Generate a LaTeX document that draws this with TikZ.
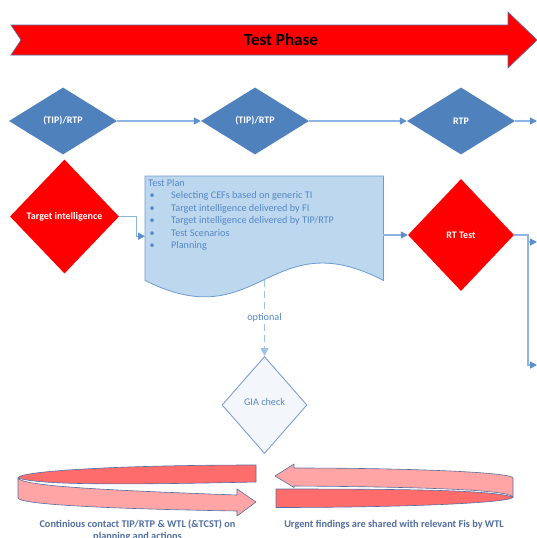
\documentclass[tikz,border=0pt]{standalone}
\usepackage{fontspec}
\setmainfont{Carlito}
\usetikzlibrary{shapes.geometric,arrows.meta}

\definecolor{officeblue}{RGB}{79,129,189}
\definecolor{linkblue}{RGB}{141,180,226}
\definecolor{tipblue}{RGB}{91,143,205}
\definecolor{optblue}{RGB}{157,195,230}
\definecolor{docfill}{RGB}{189,215,238}
\definecolor{docedge}{RGB}{110,155,208}
\definecolor{doctext}{RGB}{84,136,200}
\definecolor{ribbondark}{RGB}{255,108,108}
\definecolor{ribbonlight}{RGB}{255,165,165}
\definecolor{ribbonedge}{RGB}{84,110,160}
\definecolor{notetext}{RGB}{80,110,160}
\definecolor{giafill}{RGB}{243,246,251}
\definecolor{giaedge}{RGB}{124,160,208}

\begin{document}
\begin{tikzpicture}[x=1pt,y=-1pt,
  decision/.style={diamond, aspect=1, inner sep=0pt, draw=none,
    font=\fontsize{10}{12}\selectfont\bfseries, text=white},
  bluedec/.style={decision, fill=officeblue, minimum width=108pt, minimum height=67pt},
  reddec/.style={decision, fill=red},
  link/.style={draw=linkblue, line width=1.4pt,
    -{Triangle[length=7pt,width=7pt,color=tipblue]}},
  optlink/.style={draw=optblue, line width=1.6pt, dash pattern=on 7pt off 4pt,
    -{Triangle[length=8pt,width=8pt,color=optblue]}},
  plantext/.style={anchor=base west, inner sep=0pt, text=doctext,
    font=\fontsize{10.2}{12}\selectfont},
  notelabel/.style={anchor=base, inner sep=0pt, text=notetext,
    font=\fontsize{10.3}{12}\selectfont\bfseries},
  ribbon/.style={draw=ribbonedge, line width=0.6pt, line join=round},
]
\useasboundingbox (0,0) rectangle (537,538);

% phase banner
\path[fill=red, draw=ribbonedge, line width=0.6pt]
  (11,25) -- (508,25) -- (508,12) -- (537,40) -- (508,68) -- (508,55)
  -- (11,55) -- (21,40) -- cycle;
\node[font=\fontsize{17}{20}\selectfont\bfseries] (phase) at (281,40) {Test Phase};

% parties row
\node[bluedec] (d1) at (63,121) {(TIP)/RTP};
\node[bluedec] (d2) at (255,121) {(TIP)/RTP};
\node[bluedec] (d3) at (461,121) {RTP};
\coordinate (o0) at (537,121);
\draw[link] (d1) -- (d2);
\draw[link] (d2) -- (d3);
\draw[link] (d3) -- (o0);

% main flow
\node[reddec, minimum width=109pt, minimum height=114pt] (ti) at (64.5,216.5) {Target intelligence};
\node[reddec, minimum width=106pt, minimum height=112pt] (rt) at (461,235) {RT Test};

\node[minimum width=238pt, minimum height=104pt, inner sep=0pt, anchor=north west] (plan) at (145,176) {};
\path[fill=docfill, draw=docedge, line width=0.8pt]
  (plan.north west) -- (plan.north east) -- (plan.south east)
  .. controls (269,221) and (259,338) .. (plan.south west) -- cycle;

\node[plantext] (p0) at (148,186) {Test Plan};
\node[plantext] (p1) at (148,198.5) {\makebox[23pt][l]{\hspace{1.5pt}\textbullet}Selecting CEFs based on generic TI};
\node[plantext] (p2) at (148,211) {\makebox[23pt][l]{\hspace{1.5pt}\textbullet}Target intelligence delivered by FI};
\node[plantext] (p3) at (148,223.5) {\makebox[23pt][l]{\hspace{1.5pt}\textbullet}Target intelligence delivered by TIP/RTP};
\node[plantext] (p4) at (148,236) {\makebox[23pt][l]{\hspace{1.5pt}\textbullet}Test Scenarios};
\node[plantext] (p5) at (148,248.5) {\makebox[23pt][l]{\hspace{1.5pt}\textbullet}Planning};

\draw[link] (ti.east) -- ++(17,0) |- ([yshift=-8pt]plan.west);
\draw[link] (plan.east |- rt.west) -- (rt.west);

\coordinate (o1) at (537,242);
\coordinate (o2) at (537,365);
\draw[link] (rt.east) -| ([xshift=-9pt]o2) -- (o2);
\draw[link] ([xshift=-9pt]o1) -- (o1);

% optional check
\node[diamond, aspect=1, inner sep=0pt, minimum width=85pt, minimum height=97pt,
  fill=giafill, draw=giaedge, line width=0.9pt, text=doctext,
  font=\fontsize{10.2}{12}\selectfont] (gia) at (264.5,405) {\raisebox{7pt}{GIA check}};
\draw[optlink] (gia.north |- plan.south) -- node[fill=white, inner sep=1.5pt, text=doctext,
  font=\fontsize{10.2}{12}\selectfont] (opt) {optional} (gia.north);

% continuous contact loop (back band, then front band with head)
\path[ribbon, fill=ribbondark]
  (256,465) .. controls (124.6,465) and (18,470.8) .. (18,478)
  .. controls (40,485) and (120,485) .. (256,482) -- cycle;
\path[ribbon, fill=ribbonlight]
  (18,478) .. controls (22,486) and (100,490) .. (237,495)
  -- (237,489) -- (256,502) -- (237,516) -- (237,511)
  .. controls (120,509) and (20,505) .. (18,498) -- cycle;

% urgent findings loop
\path[ribbon, fill=ribbondark]
  (276,489) -- (276,507.5) .. controls (406.9,507.5) and (513,502.8) .. (513,497)
  .. controls (490,490) and (410,489) .. (276,489) -- cycle;
\path[ribbon, fill=ribbonlight]
  (275,476) -- (294,464) -- (294,468) .. controls (415,468) and (513,472.5) .. (513,478)
  -- (513,497) .. controls (509,490) and (430,487) .. (294,486)
  -- (294,487.5) -- cycle;

\node[notelabel] (n1a) at (137.5,527.5) {Continious contact TIP/RTP \& WTL (\&TCST) on};
\node[notelabel] (n1b) at (137.5,539.5) {planning and actions};
\node[notelabel] (n2) at (394,527.5) {Urgent findings are shared with relevant Fis by WTL};
\end{tikzpicture}
\end{document}
